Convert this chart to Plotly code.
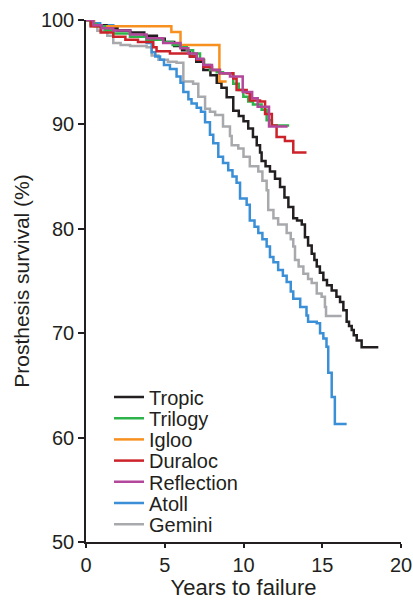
import plotly.graph_objects as go

# ---- data (step change times in years, survival in %) ----
tropic_t = [0, 0.5, 1.3, 2.0, 2.8, 3.7, 4.5, 5.0, 5.6, 6.1, 6.6, 7.0, 7.45, 7.9, 8.3, 8.6, 8.93, 9.35, 9.7, 10.0,
            10.3, 10.6, 10.84, 11.05, 11.15, 11.4, 11.68, 12.0, 12.32, 12.6, 12.85, 13.16, 13.4, 13.7, 13.9, 14.1,
            14.33, 14.5, 14.65, 14.85, 15.07, 15.3, 15.6, 15.9, 16.13, 16.34, 16.55, 16.7, 16.87, 17.0, 17.19, 17.5, 18.56]
tropic_s = [100, 99.5, 99.2, 99.0, 98.8, 98.5, 98.2, 97.9, 97.5, 97.1, 96.5, 96.0, 95.2, 94.7, 94.0, 93.5, 92.6, 91.3,
            90.8, 90.3, 89.6, 88.8, 88.0, 87.3, 86.5, 86.0, 85.5, 84.8, 84.0, 83.0, 82.1, 81.0, 80.8, 80.4, 79.2, 78.4,
            77.6, 77.0, 76.4, 75.8, 75.1, 74.6, 74.1, 73.5, 73.0, 72.2, 71.1, 70.7, 70.3, 69.8, 69.3, 68.65, 68.65]

trilogy_t = [0, 0.3, 0.68, 1.2, 1.73, 2.8, 3.85, 4.9, 5.5, 6.0, 6.4, 6.8, 7.24, 7.5, 7.87, 8.3, 8.7, 9.35, 9.7,
             9.99, 10.3, 10.6, 11.15, 11.47, 11.8, 12.9]
trilogy_s = [100, 99.6, 99.4, 99.0, 98.7, 98.4, 98.1, 97.9, 97.6, 97.4, 97.1, 96.8, 96.2, 95.7, 95.2, 95.0, 94.9,
             93.9, 93.3, 92.65, 92.2, 91.9, 91.4, 90.4, 89.9, 89.9]

igloo_t = [0, 0.5, 5.42, 6.0, 8.47, 8.93]
igloo_s = [100, 99.4, 98.85, 97.6, 94.1, 94.1]

duraloc_t = [0, 0.3, 0.93, 1.73, 2.5, 3.3, 4.27, 4.48, 5.33, 6.6, 7.03, 7.45, 8.0, 8.5, 9.35, 9.56, 10.2, 10.4,
             11.05, 11.37, 11.8, 12.1, 12.63, 13.16, 14.0]
duraloc_s = [100, 99.4, 98.8, 98.4, 98.1, 97.9, 97.4, 97.0, 96.8, 96.5, 96.2, 95.5, 95.2, 94.9, 94.4, 93.3, 93.0,
             92.3, 92.2, 91.0, 89.9, 88.8, 88.4, 87.3, 87.3]

reflection_t = [0, 0.47, 1.0, 1.73, 2.8, 3.85, 4.9, 6.0, 6.5, 7.03, 7.45, 8.0, 8.5, 9.14, 9.95, 10.55, 10.9,
                11.62, 12.8]
reflection_s = [100, 99.5, 99.2, 99.0, 98.6, 98.25, 97.8, 97.3, 96.8, 96.3, 95.7, 95.2, 94.9, 94.6, 93.1, 92.5,
                91.7, 89.8, 89.8]

atoll_t = [0, 0.4, 0.9, 1.73, 2.8, 3.85, 4.17, 4.4, 4.7, 4.95, 5.33, 5.75, 6.0, 6.18, 6.5, 6.7, 7.03, 7.3, 7.56,
           7.87, 8.08, 8.4, 8.7, 9.03, 9.3, 9.56, 9.78, 10.2, 10.4, 10.7, 10.94, 11.2, 11.47, 11.68, 11.9, 12.2,
           12.5, 12.74, 13.0, 13.16, 13.6, 14.0, 14.1, 14.65, 14.86, 15.07, 15.27, 15.38, 15.6, 15.8, 16.55]
atoll_s = [100, 99.7, 99.5, 99.0, 98.4, 97.8, 96.9, 96.5, 96.2, 95.7, 95.3, 94.6, 94.0, 93.1, 92.4, 92.0, 91.6,
           91.2, 90.2, 89.0, 88.2, 86.9, 86.3, 85.6, 85.0, 84.4, 82.9, 82.3, 80.8, 80.2, 79.6, 79.0, 78.3, 77.3,
           76.8, 76.05, 75.5, 74.9, 74.0, 73.3, 72.5, 71.7, 71.1, 70.95, 70.0, 69.5, 68.7, 66.2, 63.9, 61.3, 61.3]

gemini_t = [0, 0.3, 0.72, 1.35, 1.73, 2.2, 2.8, 3.85, 4.17, 4.6, 5.2, 5.75, 6.18, 6.8, 7.13, 7.56, 7.87, 8.2, 8.7,
            9.14, 9.25, 9.67, 10.0, 10.4, 10.94, 11.2, 11.47, 11.57, 11.9, 12.2, 12.74, 13.0, 13.16, 13.27, 13.5,
            13.8, 14.1, 14.33, 14.65, 14.96, 15.17, 15.24, 16.23]
gemini_s = [100, 99.4, 98.97, 98.5, 97.8, 97.6, 97.5, 97.4, 96.6, 96.2, 96.0, 95.9, 94.1, 93.9, 92.65, 91.5, 91.2,
            90.9, 89.8, 88.9, 88.0, 87.7, 86.9, 86.0, 85.5, 84.6, 83.7, 81.8, 81.0, 80.4, 79.6, 79.0, 78.3, 77.0,
            76.4, 75.7, 75.2, 74.8, 73.8, 73.5, 72.5, 71.65, 71.65]

x_ticks = [0, 5, 10, 15, 20]
y_ticks = [50, 60, 70, 80, 90, 100]
legend_order = ["Tropic", "Trilogy", "Igloo", "Duraloc", "Reflection", "Atoll", "Gemini"]

# (name, t, s, color); drawn in list order
series = [
    ("Gemini", gemini_t, gemini_s, "#a7a9ac"),
    ("Atoll", atoll_t, atoll_s, "#3a8fd6"),
    ("Tropic", tropic_t, tropic_s, "#231f20"),
    ("Igloo", igloo_t, igloo_s, "#f7901e"),
    ("Trilogy", trilogy_t, trilogy_s, "#2db34a"),
    ("Duraloc", duraloc_t, duraloc_s, "#cc2229"),
    ("Reflection", reflection_t, reflection_s, "#b2479b"),
]

FONT = "Liberation Sans, Arial, sans-serif"
INK = "#231f20"

fig = go.Figure()
legend_layouts = {}
top_center_px = 397      # centre of first legend row (px from top)
row_px = 21.2            # spacing of legend rows
plot_top, plot_h = 20, 522
for name, t, s, col in series:
    i = legend_order.index(name)
    key = "legend" if i == 0 else f"legend{i + 1}"
    fig.add_trace(go.Scatter(x=t, y=s, mode="lines", name=name, line=dict(color=col, width=2.5, shape="hv"),
                             legend=key))
    ypx = top_center_px + i * row_px
    legend_layouts[key] = dict(x=0.073, y=1 - (ypx - plot_top) / plot_h, xanchor="left", yanchor="middle",
                               bgcolor="rgba(0,0,0,0)", font=dict(family=FONT, size=20, color=INK),
                               itemwidth=30)

fig.update_layout(
    width=413, height=600,
    margin=dict(l=86, r=12, t=20, b=58),
    paper_bgcolor="white", plot_bgcolor="white",
    font=dict(family=FONT, size=20, color=INK),
    showlegend=True,
    xaxis=dict(range=[0, 20], tickvals=x_ticks, showline=True, linecolor=INK, linewidth=1.5,
               ticks="outside", ticklen=4, tickwidth=1.5, tickcolor=INK, showgrid=False, zeroline=False,
               automargin=False, title=dict(text="Years to failure", standoff=12, font=dict(size=22)),
               tickfont=dict(size=20)),
    yaxis=dict(range=[50, 100], tickvals=y_ticks, showline=True, linecolor=INK, linewidth=1.5,
               ticks="outside", ticklen=6, tickwidth=1.5, tickcolor=INK, showgrid=False, zeroline=False,
               automargin=False, title=dict(text="Prosthesis survival (%)", standoff=6, font=dict(size=21)),
               tickfont=dict(size=20)),
    **legend_layouts,
)

fig.write_html("out.html", config={"displayModeBar": False},
               post_script="document.body.style.margin='0';document.body.style.overflow='hidden';")
